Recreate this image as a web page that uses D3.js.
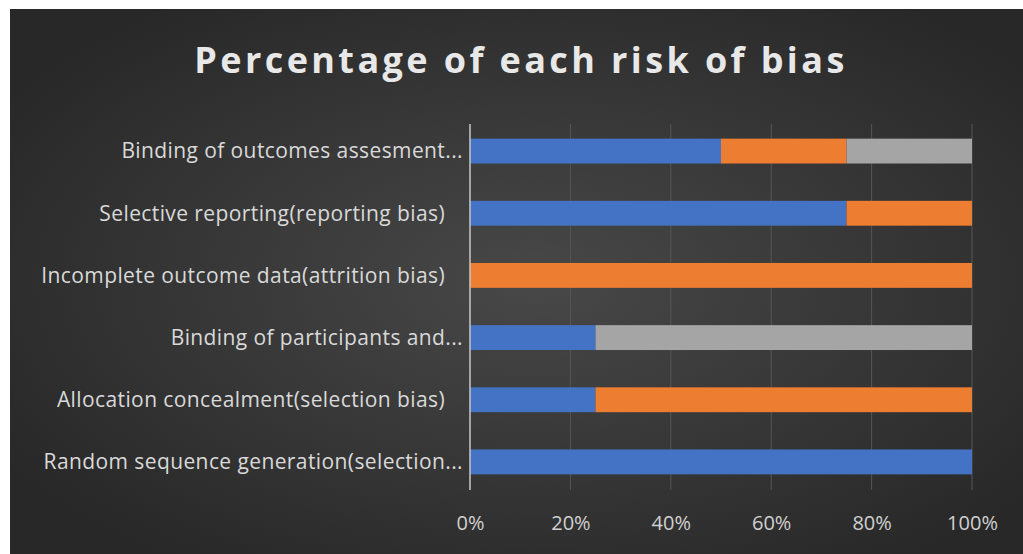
<!DOCTYPE html>
<html>
<head>
<meta charset="utf-8">
<script src="https://cdn.jsdelivr.net/npm/d3@7"></script>
<style>
  body { margin: 0; background: #fff; }
  svg { display: block; }
</style>
</head>
<body>
<div id="chart"></div>
<script>
// domains listed top to bottom as drawn
var categories = [
    "Binding of outcomes assesment...",
    "Selective reporting(reporting bias)",
    "Incomplete outcome data(attrition bias)",
    "Binding of participants and...",
    "Allocation concealment(selection bias)",
    "Random sequence generation(selection..."
];
var seriesNames = ["Low risk", "High risk", "Unclear risk"];
var lowRisk = [50, 75, 0, 25, 25, 100];
var highRisk = [25, 25, 100, 0, 75, 0];
var unclearRisk = [25, 0, 0, 75, 0, 0];
var tickValues = [0, 0.2, 0.4, 0.6, 0.8, 1];
var colors = ["#4472c4", "#ed7d31", "#a5a5a5"];

var W = 1023, H = 554;
var margin = { top: 120, right: 51, bottom: 61, left: 470 },
    width = W - margin.left - margin.right,
    height = H - margin.top - margin.bottom;

var svg = d3.select("#chart")
    .append("svg")
    .attr("width", W)
    .attr("height", H);

var defs = svg.append("defs");
var grad = defs.append("radialGradient")
    .attr("id", "bg")
    .attr("cx", "52%").attr("cy", "50%").attr("r", "62%");
grad.append("stop").attr("offset", "0%").attr("stop-color", "#484848");
grad.append("stop").attr("offset", "100%").attr("stop-color", "#282828");

svg.append("rect")
    .attr("x", 10).attr("y", 9)
    .attr("width", W - 10).attr("height", H - 9)
    .attr("fill", "url(#bg)");

svg.append("text")
    .attr("x", 521)
    .attr("y", 73)
    .attr("text-anchor", "middle")
    .text("Percentage of each risk of bias")
    .style("font-family", "'Open Sans', sans-serif")
    .style("font-size", "36px")
    .style("font-weight", "700")
    .style("letter-spacing", "3.4px")
    .style("fill", "#e8e8e8");

var g = svg.append("g")
    .attr("transform", "translate(" + margin.left + "," + margin.top + ")");

var table = categories.map(function (c, i) {
    var total = lowRisk[i] + highRisk[i] + unclearRisk[i];
    return { cat: c, "Low risk": lowRisk[i] / total, "High risk": highRisk[i] / total, "Unclear risk": unclearRisk[i] / total };
});
var stacked = d3.stack().keys(seriesNames)(table);

var x = d3.scaleLinear().domain([0, 1]).range([0, width]);
var y = d3.scaleBand().domain(categories).range([0, height]).paddingInner(0.6).paddingOuter(0.3);

// gridlines
g.append("g")
    .selectAll("line")
    .data(tickValues.slice(1))
    .enter().append("line")
    .attr("x1", function (d) { return x(d); })
    .attr("x2", function (d) { return x(d); })
    .attr("y1", 4).attr("y2", height - 3)
    .attr("stroke", "#565656")
    .attr("stroke-width", 1);

g.append("g")
    .selectAll("g")
    .data(stacked)
    .enter().append("g")
    .attr("fill", function (d, i) { return colors[i]; })
    .selectAll("rect")
    .data(function (d) { return d; })
    .enter().append("rect")
    .attr("x", function (d) { return x(d[0]); })
    .attr("width", function (d) { return x(d[1]) - x(d[0]); })
    .attr("y", function (d) { return y(d.data.cat); })
    .attr("height", y.bandwidth());

// category axis line
g.append("line")
    .attr("x1", 0).attr("x2", 0)
    .attr("y1", 4).attr("y2", height - 3)
    .attr("stroke", "#c8c8c8")
    .attr("stroke-width", 1.5);

// category labels: truncated ones sit closer to the axis
g.append("g")
    .selectAll("text")
    .data(categories)
    .enter().append("text")
    .attr("x", function (d) { return d.slice(-3) == "..." ? -7 : -25; })
    .attr("y", function (d) { return y(d) + y.bandwidth() / 2; })
    .attr("dy", "0.35em")
    .attr("text-anchor", "end")
    .text(function (d) { return d; })
    .style("font-family", "'Open Sans', sans-serif")
    .style("font-size", "21px")
    .style("letter-spacing", "0.4px")
    .style("fill", "#d9d9d9");

var xAxis = g.append("g")
    .attr("transform", "translate(0," + height + ")")
    .call(d3.axisBottom(x).tickValues(tickValues).tickFormat(d3.format(".0%")).tickSize(0).tickPadding(23));
xAxis.select(".domain").remove();
xAxis.selectAll("text")
    .style("font-family", "'Open Sans', sans-serif")
    .style("font-size", "20px")
    .style("fill", "#d0d0d0");
</script>
</body>
</html>
